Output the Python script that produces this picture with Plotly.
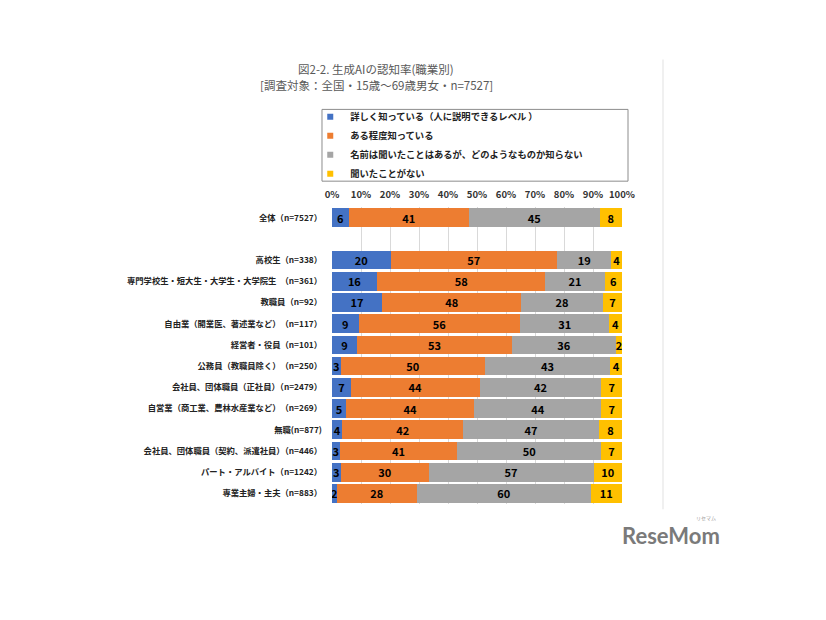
import plotly.graph_objects as go

categories = [
    "全体（n=7527）",
    "",
    "高校生（n=338）",
    "専門学校生・短大生・大学生・大学院生　（n=361）",
    "教職員（n=92）",
    "自由業（開業医、著述業など）　（n=117）",
    "経営者・役員（n=101）",
    "公務員（教職員除く）　（n=250）",
    "会社員、団体職員（正社員）（n=2479）",
    "自営業（商工業、農林水産業など）　（n=269）",
    "無職(n=877)",
    "会社員、団体職員（契約、派遣社員）（n=446）",
    "パート・アルバイト（n=1242）",
    "専業主婦・主夫（n=883）",
]

series_names = [
    "詳しく知っている（人に説明できるレベル ）",
    "ある程度知っている",
    "名前は聞いたことはあるが、どのようなものか知らない",
    "聞いたことがない",
]

detail = [5.8, None, 20.2, 15.6, 17.3, 9.2, 8.6, 3.0, 6.5, 4.8, 3.6, 2.6, 3.0, 1.6]
some = [41.3, None, 57.4, 57.9, 47.9, 55.7, 53.4, 49.6, 44.4, 44.3, 41.6, 40.6, 30.3, 27.7]
name_only = [45.2, None, 18.7, 20.6, 28.2, 30.7, 36.0, 43.4, 42.0, 43.8, 46.9, 49.6, 56.9, 59.9]
never = [7.7, None, 3.7, 5.9, 6.6, 4.4, 2.0, 4.0, 7.1, 7.1, 7.9, 7.2, 9.8, 10.8]

x_ticks = [0, 10, 20, 30, 40, 50, 60, 70, 80, 90, 100]
x_tick_labels = [f"{v}%" for v in x_ticks]

colors = ["#4472C4", "#ED7D31", "#A5A5A5", "#FFC000"]
FONT = "Noto Sans CJK JP"

positions = list(range(len(categories)))

fig = go.Figure()
for i, (name, vals, col) in enumerate(zip(series_names, [detail, some, name_only, never], colors)):
    fig.add_trace(go.Bar(
        name=name, x=vals, y=positions, orientation="h",
        marker=dict(color=col, line=dict(width=0)),
        texttemplate="%{x:.0f}", textposition="inside",
        insidetextanchor="middle", constraintext="none", textangle=0,
        textfont=dict(family=FONT, size=11, color="#000000", weight="bold"),
        hoverinfo="skip", showlegend=False, legendgroup=f"g{i}",
    ))
    # legend entry with small square marker, like the original
    fig.add_trace(go.Scatter(
        name=name, x=[None], y=[None], mode="markers",
        marker=dict(symbol="square", size=6, color=col),
        showlegend=True, legendgroup=f"g{i}", hoverinfo="skip",
    ))

fig.update_layout(
    width=826, height=620,
    barmode="stack", bargap=0.12,
    paper_bgcolor="white", plot_bgcolor="white",
    margin=dict(l=324, r=212, t=199, b=124, autoexpand=False),
    font=dict(family=FONT, color="#333333"),
    uniformtext=dict(minsize=11, mode="show"),
    showlegend=True,
    legend=dict(
        x=-0.075, xanchor="left", y=1.353, yanchor="top",
        orientation="v", traceorder="normal",
        font=dict(family=FONT, size=9.3, color="#222222", weight="bold"),
        bgcolor="rgba(0,0,0,0)", borderwidth=0, itemwidth=30, tracegroupgap=0,
    ),
    xaxis=dict(
        range=[0, 100], side="top", tickvals=x_ticks, ticktext=x_tick_labels,
        showgrid=True, gridcolor="#D9D9D9", gridwidth=1, zeroline=False,
        showline=False, ticks="", ticklabelstandoff=6,
        tickfont=dict(family=FONT, size=9.5, color="#333333", weight="bold"),
        fixedrange=True,
    ),
    yaxis=dict(
        range=[len(categories) - 0.5, -0.5], tickvals=positions, ticktext=categories,
        showgrid=False, zeroline=False, showline=False, ticks="",
        ticklabelstandoff=9,
        tickfont=dict(family=FONT, size=8.3, color="#222222", weight="bold"),
        fixedrange=True,
    ),
)

# legend frame
fig.add_shape(type="rect", xref="paper", yref="paper",
              x0=-0.0345, x1=1.0207, y0=1.087, y1=1.3286,
              line=dict(color="#8C8C8C", width=1), fillcolor="rgba(0,0,0,0)")
# faint chart-area edge line at right
fig.add_shape(type="line", xref="paper", yref="paper",
              x0=1.1414, x1=1.1414, y0=-0.018, y1=1.497,
              line=dict(color="#EBEBEB", width=1.5))

# titles
fig.add_annotation(xref="paper", yref="paper", x=0.152, y=1.466, xanchor="center", yanchor="middle",
                   text="図2-2. 生成AIの認知率(職業別)", showarrow=False,
                   font=dict(family=FONT, size=11.5, color="#595959"))
fig.add_annotation(xref="paper", yref="paper", x=0.152, y=1.412, xanchor="center", yanchor="middle",
                   text="[調査対象：全国・15歳～69歳男女・n=7527]", showarrow=False,
                   font=dict(family=FONT, size=11.5, color="#595959"))

# watermark logo
fig.add_annotation(xref="paper", yref="paper", x=1.17, y=-0.107, xanchor="center", yanchor="middle",
                   text="ReseMom", showarrow=False,
                   font=dict(family="Lato", size=22, color="#7A7A7A", weight="bold"))
fig.add_annotation(xref="paper", yref="paper", x=1.29, y=-0.047, xanchor="center", yanchor="middle",
                   text="リセマム", showarrow=False,
                   font=dict(family=FONT, size=5, color="#9A9A9A"))

fig.write_html("out.html")
